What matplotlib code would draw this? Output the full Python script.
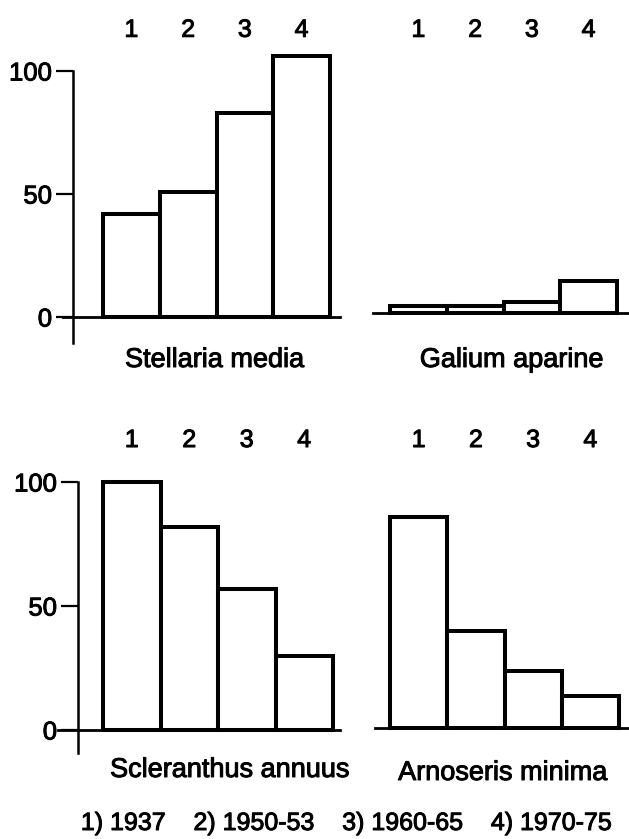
import numpy as np
import matplotlib
matplotlib.use('Agg')
import matplotlib.pyplot as plt
import matplotlib.patheffects as pe

# canvas size in pixels
W, H = 629, 839

periods = ['1', '2', '3', '4']
legend_items = ['1) 1937', '2) 1950-53', '3) 1960-65', '4) 1970-75']
yticks = [0, 50, 100]

# bar heights
stellaria = [42, 51, 83, 106]
galium = [3, 3, 4.5, 13]
scleranthus = [100, 82, 57, 30]
arnoseris = [85, 39, 23, 13]

plt.rcParams['font.family'] = ['Liberation Sans', 'DejaVu Sans']
# scanned print look: slightly heavier glyphs
heavy = [pe.withStroke(linewidth=0.7, foreground='black')]

fig = plt.figure(figsize=(W / 100, H / 100), dpi=100)


def add_panel(vals, title, bx0, bx1, y0, ppu, left, right, top, bottom, axis_px, tx, ty, toppad):
    # bx0/bx1: pixel edges of the bar group, y0: pixel of value 0, ppu: pixels per unit
    ax = fig.add_axes([left / W, 1 - bottom / H, (right - left) / W, (bottom - top) / H])
    ppx = (bx1 - bx0) / 4
    ax.set_xlim(0.5 + (left - bx0) / ppx, 0.5 + (right - bx0) / ppx)
    ylo, yhi = (y0 - bottom) / ppu, (y0 - top) / ppu
    ax.set_ylim(ylo, yhi)
    x = np.arange(1, 5)
    ax.bar(x, vals, width=1.0, facecolor='white', edgecolor='black', linewidth=2.9, zorder=3)

    ax.spines['top'].set_visible(False)
    ax.spines['right'].set_visible(False)
    ax.spines['bottom'].set_position(('data', 0))
    ax.spines['bottom'].set_linewidth(2.0)

    ax.set_xticks(x)
    ax.set_xticklabels(periods)
    ax.xaxis.tick_top()
    ax.tick_params(axis='x', length=0, pad=toppad, labelsize=18)

    if axis_px is None:
        ax.spines['left'].set_visible(False)
        ax.set_yticks([])
    else:
        ax.spines['left'].set_position(('data', 0.5 + (axis_px - bx0) / ppx))
        ax.spines['left'].set_bounds(ylo + 1, 100)
        ax.spines['left'].set_linewidth(1.8)
        ax.set_yticks(yticks)
        ax.set_yticklabels([str(v) for v in yticks])
        ax.tick_params(axis='y', length=12, width=1.6, pad=3, labelsize=18.5)

    for lab in ax.get_xticklabels() + ax.get_yticklabels():
        lab.set_path_effects(heavy)

    fig.text(tx / W, 1 - ty / H, title, ha='center', va='center', fontsize=19.5,
             path_effects=heavy)
    return ax


add_panel(stellaria, 'Stellaria media', 103, 330, 317, 2.46, 63, 340, 46, 345, 73, 215, 360, 3)
add_panel(galium, 'Galium aparine', 390, 617, 313, 2.46, 373, 629, 46, 345, None, 512, 360, 3)
add_panel(scleranthus, 'Scleranthus annuus', 103, 333, 730, 2.48, 58, 340, 453, 755, 78, 230, 770, 0.7)
add_panel(arnoseris, 'Arnoseris minima', 390, 619, 728, 2.48, 375, 629, 453, 755, None, 503, 773, 0.7)

fig.text(347 / W, 1 - 823 / H, '    '.join(legend_items), ha='center', va='center', fontsize=18,
         path_effects=heavy)

fig.savefig('out.png', dpi=100, facecolor='white')
